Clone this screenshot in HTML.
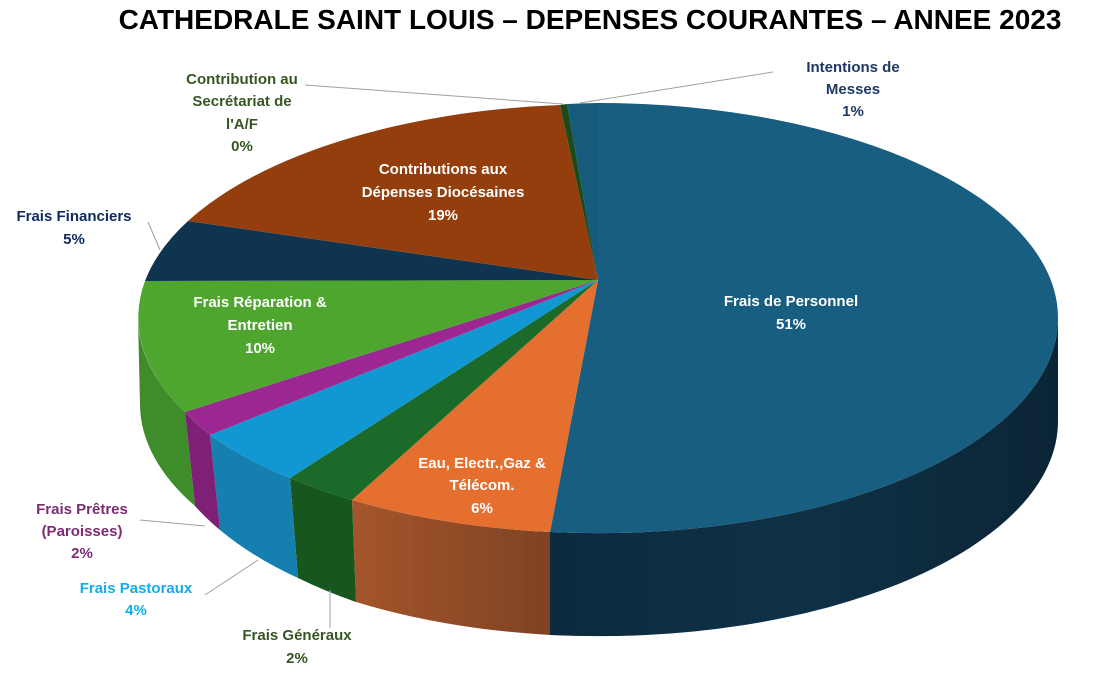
<!DOCTYPE html>
<html><head><meta charset="utf-8"><style>
body{margin:0;background:#fff;}
svg{display:block;font-family:"Liberation Sans",sans-serif;font-weight:bold;}
</style></head><body>
<svg width="1108" height="673" viewBox="0 0 1108 673">
<defs>
<linearGradient id="gs" x1="0" x2="1" y1="0" y2="0">
<stop offset="0" stop-color="#0c2a3d"/><stop offset="0.5" stop-color="#0f3146"/><stop offset="1" stop-color="#0b2535"/>
</linearGradient>
<linearGradient id="go" x1="0" x2="1"><stop offset="0" stop-color="#a5552a"/><stop offset="1" stop-color="#7e4323"/></linearGradient>
</defs>
<text x="590" y="29" text-anchor="middle" font-size="28" fill="#000">CATHEDRALE SAINT LOUIS – DEPENSES COURANTES – ANNEE 2023</text>

<!-- sides -->
<path d="M1058,318 A460,215 0 0 1 550,532 L550,635 A460,215 0 0 0 1058,421 Z" fill="url(#gs)"/>
<path d="M550,532 A460,215 0 0 1 352,500 L356,602 A460,215 0 0 0 550,635 Z" fill="url(#go)"/>
<path d="M352,500 A460,215 0 0 1 290,478 L298,578 A460,215 0 0 0 356,602 Z" fill="#17561f"/>
<path d="M290,478 A460,215 0 0 1 210,435 L220,530 A460,215 0 0 0 298,578 Z" fill="#1580b0"/>
<path d="M210,435 A460,215 0 0 1 185,412 L195,506 A460,215 0 0 0 220,530 Z" fill="#7e2076"/>
<path d="M185,412 A460,215 0 0 1 138,318 L140,405 A460,215 0 0 0 195,506 Z" fill="#3f8c2a"/>

<!-- top faces -->
<g stroke="none">
<path d="M598,280 L598,103 A460,215 0 0 1 1058,318 A460,215 0 0 1 550,532 Z" fill="#175e80"/>
<path d="M598,280 L550,532 A460,215 0 0 1 352,500 Z" fill="#e46f2f"/>
<path d="M598,280 L352,500 A460,215 0 0 1 290,478 Z" fill="#1c6a2a"/>
<path d="M598,280 L290,478 A460,215 0 0 1 210,435 Z" fill="#1198d2"/>
<path d="M598,280 L210,435 A460,215 0 0 1 185,412 Z" fill="#9c2792"/>
<path d="M598,280 L185,412 A460,215 0 0 1 145,281 Z" fill="#4ea62f"/>
<path d="M598,280 L145,281 A460,215 0 0 1 188,221 Z" fill="#0f3450"/>
<path d="M598,280 L188,221 A460,215 0 0 1 560,105 Z" fill="#943e0e"/>
<path d="M598,280 L560,105 A460,215 0 0 1 567,104 Z" fill="#1b4a1b"/>
<path d="M598,280 L567,104 A460,215 0 0 1 598,103 Z" fill="#165a7c"/>
</g>

<!-- leader lines -->
<g stroke="#a0a0a0" stroke-width="1" fill="none">
<polyline points="773,72 580,103"/>
<polyline points="305,85 563,104"/>
<polyline points="148,222 160,250"/>
<polyline points="140,520 205,526"/>
<polyline points="205,595 258,560"/>
<polyline points="330,628 330,590"/>
</g>

<g font-size="15" text-anchor="middle">
<text fill="#fff"><tspan x="791" y="306">Frais de Personnel</tspan><tspan x="791" y="329">51%</tspan></text>
<text fill="#fff"><tspan x="482" y="468">Eau, Electr.,Gaz &amp;</tspan><tspan x="482" y="490">Télécom.</tspan><tspan x="482" y="513">6%</tspan></text>
<text fill="#fff"><tspan x="260" y="307">Frais Réparation &amp;</tspan><tspan x="260" y="330">Entretien</tspan><tspan x="260" y="353">10%</tspan></text>
<text fill="#fff"><tspan x="443" y="174">Contributions aux</tspan><tspan x="443" y="197">Dépenses Diocésaines</tspan><tspan x="443" y="220">19%</tspan></text>
<text fill="#1f3864"><tspan x="853" y="72">Intentions de</tspan><tspan x="853" y="94">Messes</tspan><tspan x="853" y="116">1%</tspan></text>
<text fill="#375623"><tspan x="242" y="84">Contribution au</tspan><tspan x="242" y="106">Secrétariat de</tspan><tspan x="242" y="129">l'A/F</tspan><tspan x="242" y="151">0%</tspan></text>
<text fill="#0f2a5e"><tspan x="74" y="221">Frais Financiers</tspan><tspan x="74" y="244">5%</tspan></text>
<text fill="#7b2c74"><tspan x="82" y="514">Frais Prêtres</tspan><tspan x="82" y="536">(Paroisses)</tspan><tspan x="82" y="558">2%</tspan></text>
<text fill="#12aee8"><tspan x="136" y="593">Frais Pastoraux</tspan><tspan x="136" y="615">4%</tspan></text>
<text fill="#375623"><tspan x="297" y="640">Frais Généraux</tspan><tspan x="297" y="663">2%</tspan></text>
</g>
</svg>
</body></html>
